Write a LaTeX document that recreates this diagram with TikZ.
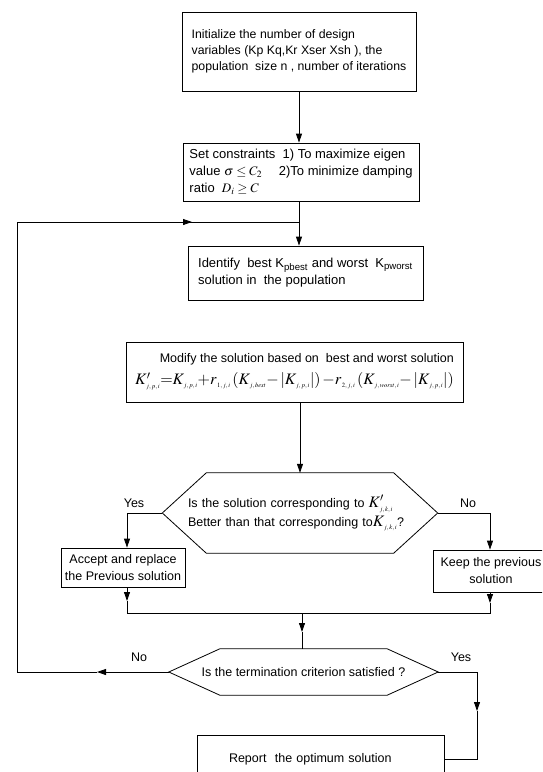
\documentclass[tikz,border=0pt]{standalone}
\usepackage{mathptmx}
\usepackage[no-math]{fontspec}
\setmainfont{Liberation Sans}
\usetikzlibrary{
	arrows.meta,
	calc,
	positioning
	}
\tikzset{font={\fontsize{12.5pt}{17pt}\selectfont}}
\tikzstyle{boite}=[draw, rectangle, line width=0.8pt, inner sep=0pt]
\tikzstyle{hexa}=[rectangle, inner sep=0pt]
\tikzstyle{trait}=[line width=0.8pt]
\tikzstyle{fleche}=[trait, -{Triangle[length=9pt,width=6pt]}]
\tikzstyle{etiq}=[inner sep=1pt]
\newcommand{\ssc}[1]{\mbox{\fontsize{6.5pt}{7pt}\selectfont$\,#1$}}
\newcommand{\grand}{\fontsize{16pt}{18pt}\selectfont}

\begin{document}
\begin{tikzpicture}[x=1pt, y=-1pt]
        \useasboundingbox (0,0) rectangle (542,772);
        \clip (0,0) rectangle (542,772);
        % boites
        \node[boite, minimum width=234pt, minimum height=79pt, align=left,
              font=\fontsize{12.3pt}{16pt}\selectfont] (b1) at (299,51.5)
            {Initialize the number of design\\ variables (Kp Kq,Kr Xser Xsh ), the\\ population\ \ size n , number of iterations};
        \node[boite, minimum width=236pt, minimum height=58pt, align=left,
              font=\fontsize{13pt}{17pt}\selectfont] (b2) at (301,172)
            {Set constraints\ \ 1) To maximize eigen\\ value $\sigma\le C_2$ \quad 2)To minimize damping\\ ratio\ \ $D_i\ge C$};
        \node[boite, minimum width=235pt, minimum height=54pt, align=left,
              font=\fontsize{13pt}{17pt}\selectfont] (b3) at (305.5,273)
            {Identify\ \ best K\textsubscript{pbest} and worst\ \ K\textsubscript{pworst}\\ solution in\ \ the population};
        \node[boite, minimum width=337pt, minimum height=60pt, align=right] (b4) at (294.5,372)
            {Modify the solution based on\ \ best and worst solution\\[5pt]
            {\grand $K'_{\ssc{j,p,i}}{=}K_{\ssc{j,p,i}}{+}r_{\ssc{1,j,i}}\left(K_{\ssc{j,best}}{-}\left|K_{\ssc{j,p,i}}\right|\right){-}r_{\ssc{2,j,i}}\left(K_{\ssc{j,worst,i}}{-}\left|K_{\ssc{j,p,i}}\right|\right)$}};
        \node[boite, minimum width=124pt, minimum height=39pt, align=center] (b5) at (123,567.5)
            {Accept and replace\\ the Previous solution};
        \node[boite, minimum width=116pt, minimum height=42pt, align=center] (b6) at (491,571)
            {Keep the previous\\ solution};
        \node[boite, minimum width=247pt, minimum height=48pt, text width=183pt, align=left] (b7) at (320.5,759)
            {Report\ \ the optimum solution};
        % decisions
        \node[hexa, minimum width=275pt, minimum height=80pt, text width=224pt, align=left] (d1) at (300,513)
            {Is the solution corresponding to {\grand $K'_{\ssc{j,k,i}}$}\\[2pt]
            Better than that corresponding to{\grand $K_{\ssc{j,k,i}}$}?};
        \draw[trait] (d1.west) -- ($(d1.north west)+(44,0)$) -- ($(d1.north east)+(-44,0)$) -- (d1.east)
            -- ($(d1.south east)+(-44,0)$) -- ($(d1.south west)+(44,0)$) -- cycle;
        \node[hexa, minimum width=269pt, minimum height=46pt] (d2) at (303.5,672)
            {Is the termination criterion satisfied ?};
        \draw[trait] (d2.west) -- ($(d2.north west)+(51,0)$) -- ($(d2.north east)+(-51,0)$) -- (d2.east)
            -- ($(d2.south east)+(-51,0)$) -- ($(d2.south west)+(51,0)$) -- cycle;
        % points de passage
        \coordinate (j1) at (299,222);
        \coordinate (c-oui) at (127,513);
        \coordinate (c-non) at (490,513);
        \coordinate (f5) at (127,601);
        \coordinate (f6) at (490,603);
        \coordinate (m1) at (127,613);
        \coordinate (m2) at (490,613);
        \coordinate (m3) at (302,613);
        \coordinate (f7) at (302,632);
        \coordinate (f8) at (97,672);
        \coordinate (c-b1) at (17,672);
        \coordinate (c-b2) at (17,222);
        \coordinate (f9) at (192,222);
        \coordinate (c-fin) at (477,672);
        \coordinate (f10) at (477,711);
        \coordinate (c-fin2) at (477,759);
        % liens
        \draw[fleche] (b1.south) -- (b1.south |- b2.north);
        \draw[trait] (b2.south -| j1) -- (j1);
        \draw[fleche] (j1) -- (j1 |- b3.north);
        \draw[fleche] (b4.south -| d1.north) -- (d1.north);
        \draw[trait] (d1.west) -- (c-oui);
        \draw[fleche] (c-oui) -- (c-oui |- b5.north);
        \draw[trait] (d1.east) -- (c-non);
        \draw[fleche] (c-non) -- (c-non |- b6.north);
        \draw[fleche] (c-oui |- b5.south) -- (f5);
        \draw[fleche] (c-non |- b6.south) -- (f6);
        \draw[trait] (f5) -- (m1) -- (m2) -- (f6);
        \draw[fleche] (m3) -- (f7);
        \draw[trait] (f7) -- (f7 |- d2.north);
        \draw[fleche] (d2.west) -- (f8);
        \draw[trait] (f8) -- (c-b1) -- (c-b2) -- (f9);
        \draw[fleche] (c-b2) -- (f9);
        \draw[trait] (f9) -- (j1);
        \draw[trait] (d2.east) -- (c-fin);
        \draw[fleche] (c-fin) -- (f10);
        \draw[trait] (f10) -- (c-fin2) -- (b7.east);
        % etiquettes
        \node[etiq] (l-oui1) at (134,503) {Yes};
        \node[etiq] (l-non1) at (468,503) {No};
        \node[etiq] (l-non2) at (139,657) {No};
        \node[etiq] (l-oui2) at (461,657) {Yes};
    \end{tikzpicture}
\end{document}
